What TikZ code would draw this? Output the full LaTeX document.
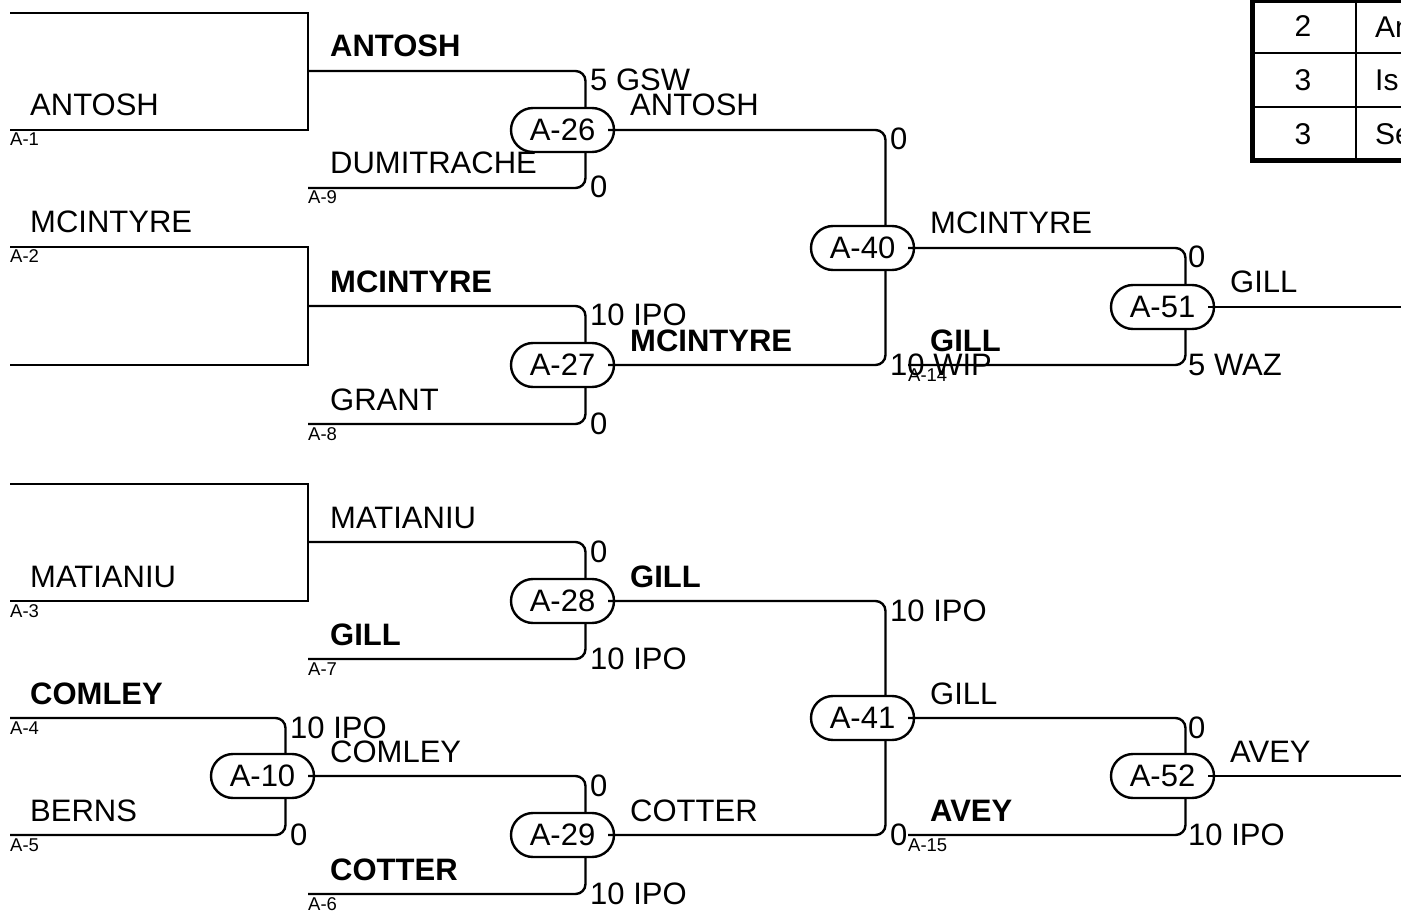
\documentclass[tikz,border=0pt]{standalone}
\usepackage{fontspec}
\setmainfont{Liberation Sans}

\begin{document}
\begin{tikzpicture}[
    x=1pt, y=-1pt,
    font=\fontsize{31}{37}\selectfont,
    rail/.style={draw=ink, line width=2.4pt},
    feed/.style={draw=ink, line width=2.4pt, rounded corners=10pt},
    match/.style={draw=ink, line width=2.4pt, fill=white, rounded corners=22pt,
      minimum width=103pt, minimum height=44pt, inner sep=0pt},
    player/.style={anchor=base west, inner sep=0pt, text=ink},
    winner/.style={player, font=\fontsize{31}{37}\selectfont\bfseries},
    score/.style={anchor=base west, inner sep=0pt, text=ink},
    seed/.style={anchor=base west, inner sep=0pt, text=ink,
      font=\fontsize{18.5}{22}\selectfont},
    cell/.style={inner sep=0pt, text=ink, font=\fontsize{30}{36}\selectfont}
]
\definecolor{ink}{HTML}{000000}

\def\off{23}
\def\cut{7}

\useasboundingbox (0,0) rectangle (1401,912);
\clip (0,0) rectangle (1401,912);

% Matches
\node[match] (m26) at (562.5,130) {A-26};
\node[match] (m27) at (562.5,365) {A-27};
\node[match] (m40) at (862.5,248) {A-40};
\node[match] (m51) at (1162.5,307) {A-51};
\node[match] (m28) at (562.5,601) {A-28};
\node[match] (m10) at (262.5,776) {A-10};
\node[match] (m29) at (562.5,835) {A-29};
\node[match] (m41) at (862.5,718) {A-41};
\node[match] (m52) at (1162.5,776) {A-52};

% Seed slots
\coordinate (e1) at (10,13);
\coordinate (p1) at (10,130);
\coordinate (j1) at (308,71);
\coordinate (p2) at (10,247);
\coordinate (e2) at (10,365);
\coordinate (j2) at (308,306);
\coordinate (p9) at (308,188);
\coordinate (p8) at (308,424);
\coordinate (p14) at (908,365);
\coordinate (e3) at (10,484);
\coordinate (p3) at (10,601);
\coordinate (j3) at (308,542);
\coordinate (p7) at (308,659);
\coordinate (p4) at (10,718);
\coordinate (p5) at (10,835);
\coordinate (p6) at (308,894);
\coordinate (p15) at (908,835);
\coordinate (o51) at (1401,307);
\coordinate (o52) at (1401,776);

% Byes
\draw[rail] (e1) -| (j1) |- (p1);
\draw[rail] (p2) -| (j2) |- (e2);
\draw[rail] (e3) -| (j3) |- (p3);

\foreach \a/\b in {j1/m26.north, p9/m26.south, j2/m27.north, p8/m27.south,
    p14/m51.south, j3/m28.north, p7/m28.south, p4/m10.north, p5/m10.south,
    p6/m29.south, p15/m52.south}
  \draw[feed] (\a) -| ([xshift=\off pt]\b);

\foreach \a/\b in {m26/m40.north, m27/m40.south, m40/m51.north,
    m10/m29.north, m28/m41.north, m29/m41.south, m41/m52.north}
  \draw[feed] ([xshift=-\cut pt]\a.east) -| ([xshift=\off pt]\b);

\draw[rail] ([xshift=-\cut pt]m51.east) -- (o51);
\draw[rail] ([xshift=-\cut pt]m52.east) -- (o52);

% Names
\foreach \x/\y/\t [count=\i] in {30/116/ANTOSH, 30/233/MCINTYRE,
    30/587/MATIANIU, 30/821/BERNS, 330/174/DUMITRACHE, 330/410/GRANT,
    330/528/MATIANIU, 330/762/COMLEY, 630/116/ANTOSH, 630/821/COTTER,
    930/234/MCINTYRE, 930/704/GILL, 1230/293/GILL, 1230/762/AVEY}
  \node[player] (pl\i) at (\x,\y) {\t};

\foreach \x/\y/\t [count=\i] in {330/57/ANTOSH, 330/292/MCINTYRE,
    630/351/MCINTYRE, 930/351/GILL, 630/587/GILL, 330/645/GILL,
    30/704/COMLEY, 330/880/COTTER, 930/821/AVEY}
  \node[winner] (wn\i) at (\x,\y) {\t};

% Scores
\foreach \x/\y/\t [count=\i] in {590/91/5 GSW, 590/198/0, 590/326/10 IPO,
    590/434/0, 890/150/0, 890/375/10 WIP, 1188/268/0, 1188/375/5 WAZ,
    590/562/0, 590/669/10 IPO, 290/738/10 IPO, 290/845/0, 590/796/0,
    590/904/10 IPO, 890/621/10 IPO, 890/845/0, 1188/738/0, 1188/845/10 IPO}
  \node[score] (sc\i) at (\x,\y) {\t};

\foreach \x/\y/\t [count=\i] in {10/146/A-1, 308/204/A-9, 10/263/A-2,
    308/440/A-8, 908/381/A-14, 10/617/A-3, 308/675/A-7, 10/734/A-4,
    10/851/A-5, 308/910/A-6, 908/851/A-15}
  \node[seed] (sd\i) at (\x,\y) {\t};

% Table
\draw[ink, line width=2pt] (1252,53) -- (1420,53) (1252,107.5) -- (1420,107.5)
  (1356,0) -- (1356,160);
\draw[ink, line width=4.5pt] (1252.5,0.5) rectangle (1420,160.5);
\foreach \y/\n/\w [count=\i] in {26.5/2/An, 80/3/Is, 134/3/Se} {
  \node[cell] (tn\i) at (1303,\y) {\n};
  \node[cell, anchor=base west] (tw\i) at (1375,\y+11) {\w};
}
\end{tikzpicture}
\end{document}
